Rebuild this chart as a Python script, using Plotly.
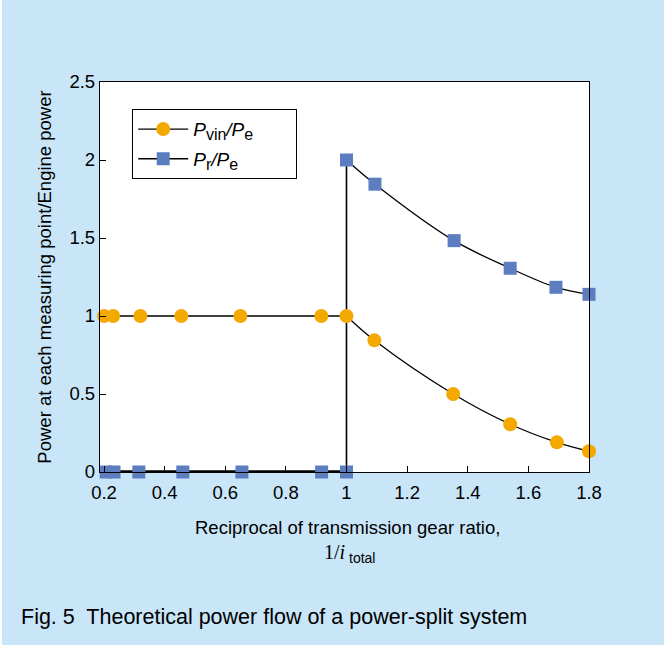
import plotly.graph_objects as go

# ---- data ----
pvin_x = [0.2, 0.23, 0.32, 0.455, 0.65, 0.917, 1.0, 1.092, 1.352, 1.54, 1.694, 1.8]
pvin_y = [1.0, 1.0, 1.0, 1.0, 1.0, 1.0, 1.0, 0.844, 0.50, 0.306, 0.19, 0.133]
pr_x = [0.207, 0.233, 0.315, 0.46, 0.655, 0.918, 1.0, 1.0, 1.094, 1.355, 1.54, 1.691, 1.8]
pr_y = [0.0, 0.0, 0.0, 0.0, 0.0, 0.0, 0.0, 2.0, 1.845, 1.483, 1.306, 1.184, 1.139]
x_ticks = [0.2, 0.4, 0.6, 0.8, 1.0, 1.2, 1.4, 1.6, 1.8]
x_ticklabels = ["0.2", "0.4", "0.6", "0.8", "1", "1.2", "1.4", "1.6", "1.8"]
y_ticks = [0, 0.5, 1, 1.5, 2, 2.5]
y_ticklabels = ["0", "0.5", "1", "1.5", "2", "2.5"]
pvin_corner = 6   # index where the flat part ends
pr_corner = 7     # index where the vertical jump ends

ORANGE = "#F4A900"
BLUE = "#5C7DC0"
BG = "#C8E6F8"
FONT = "Liberation Sans, Arial, sans-serif"
SERIF = "'Liberation Serif', 'Times New Roman', serif"
LW = 1.3
FS = 18.5

fig = go.Figure()

# Pvin lines
fig.add_trace(go.Scatter(x=pvin_x[:pvin_corner + 1], y=pvin_y[:pvin_corner + 1], mode="lines",
                         line=dict(color="black", width=LW), showlegend=False, hoverinfo="skip"))
fig.add_trace(go.Scatter(x=pvin_x[pvin_corner:], y=pvin_y[pvin_corner:], mode="lines",
                         line=dict(color="black", width=LW, shape="spline"), showlegend=False, hoverinfo="skip"))
# Pr lines
fig.add_trace(go.Scatter(x=pr_x[:pr_corner], y=pr_y[:pr_corner], mode="lines",
                         line=dict(color="black", width=3.5), showlegend=False, hoverinfo="skip"))
fig.add_trace(go.Scatter(x=pr_x[pr_corner - 1:pr_corner + 1], y=pr_y[pr_corner - 1:pr_corner + 1], mode="lines",
                         line=dict(color="black", width=LW + 0.3), showlegend=False, hoverinfo="skip"))
fig.add_trace(go.Scatter(x=pr_x[pr_corner:], y=pr_y[pr_corner:], mode="lines",
                         line=dict(color="black", width=LW, shape="spline"), showlegend=False, hoverinfo="skip"))

# markers
fig.add_trace(go.Scatter(x=pvin_x, y=pvin_y, mode="markers",
                         marker=dict(symbol="circle", size=14, color=ORANGE, line=dict(width=0)),
                         showlegend=False, cliponaxis=False))
fig.add_trace(go.Scatter(x=pr_x, y=pr_y, mode="markers",
                         marker=dict(symbol="square", size=13, color=BLUE, line=dict(width=0)),
                         showlegend=False, cliponaxis=False))


def sub(t):
    return "<sub><span style='font-size:16px'>" + t + "</span></sub>"


# legend entries
PAD = "&#160;" * 7
fig.add_trace(go.Scatter(x=[None], y=[None], mode="lines+markers",
                         name="<i>P</i>" + sub("vin") + "<i>/P</i>" + sub("e") + PAD,
                         line=dict(color="black", width=LW),
                         marker=dict(symbol="circle", size=14, color=ORANGE), legendgroup="a"))
fig.add_trace(go.Scatter(x=[None], y=[None], mode="lines+markers",
                         name="<i>P</i>" + sub("r") + "<i>/P</i>" + sub("e"),
                         line=dict(color="black", width=LW),
                         marker=dict(symbol="square", size=13, color=BLUE), legendgroup="b"))

fig.update_layout(
    width=664, height=648,
    margin=dict(l=100, r=75, t=82, b=176),
    paper_bgcolor=BG, plot_bgcolor="white",
    font=dict(family=FONT, size=FS, color="black"),
    showlegend=True,
    legend=dict(x=(132 - 100) / 489, y=(472 - 109) / 390, xanchor="left", yanchor="top",
                bgcolor="white", bordercolor="black", borderwidth=1.2,
                font=dict(size=19, family=FONT), tracegroupgap=2, itemwidth=50),
    xaxis=dict(range=[0.2 - 4 / 303.1, 1.8], tickvals=x_ticks, ticktext=x_ticklabels,
               ticks="inside", ticklen=6, tickcolor="black", tickwidth=1.2,
               showline=True, linecolor="black", linewidth=1.3, mirror=True,
               showgrid=False, zeroline=False, tickfont=dict(size=FS), ticklabelstandoff=4),
    yaxis=dict(range=[0, 2.5], tickvals=y_ticks, ticktext=y_ticklabels,
               ticks="inside", ticklen=6, tickcolor="black", tickwidth=1.2,
               showline=True, linecolor="black", linewidth=1.3, mirror=True,
               showgrid=False, zeroline=False, tickfont=dict(size=FS),
               title=dict(text="Power at each measuring point/Engine power", font=dict(size=FS), standoff=12)),
    annotations=[
        dict(text="Reciprocal of transmission gear ratio,", xref="paper", yref="paper",
             x=(347 - 100) / 489, y=-(527 - 472) / 390, xanchor="center", yanchor="middle",
             showarrow=False, font=dict(size=FS)),
        dict(text="<span style=\"font-family:" + SERIF + "\">1/<i>i</i></span><sub> total</sub>",
             xref="paper", yref="paper",
             x=(349 - 100) / 489, y=-(553 - 472) / 390, xanchor="center", yanchor="middle",
             showarrow=False, font=dict(size=20)),
        dict(text="Fig. 5  Theoretical power flow of a power-split system", xref="paper", yref="paper",
             x=-(100 - 19) / 489, y=-(617 - 472) / 390, xanchor="left", yanchor="middle",
             showarrow=False, font=dict(size=21.5)),
    ],
    shapes=[
        dict(type="rect", xref="paper", yref="paper", x0=-100 / 489, x1=1 + 75 / 489,
             y0=-(648 - 472) / 390, y1=-(645 - 472) / 390, fillcolor="white", line=dict(width=0), layer="below"),
        dict(type="rect", xref="paper", yref="paper", x0=-100 / 489, x1=-98 / 489,
             y0=-(648 - 472) / 390, y1=1 + 82 / 390, fillcolor="white", line=dict(width=0), layer="below"),
    ],
)

fig.write_html("out.html")
